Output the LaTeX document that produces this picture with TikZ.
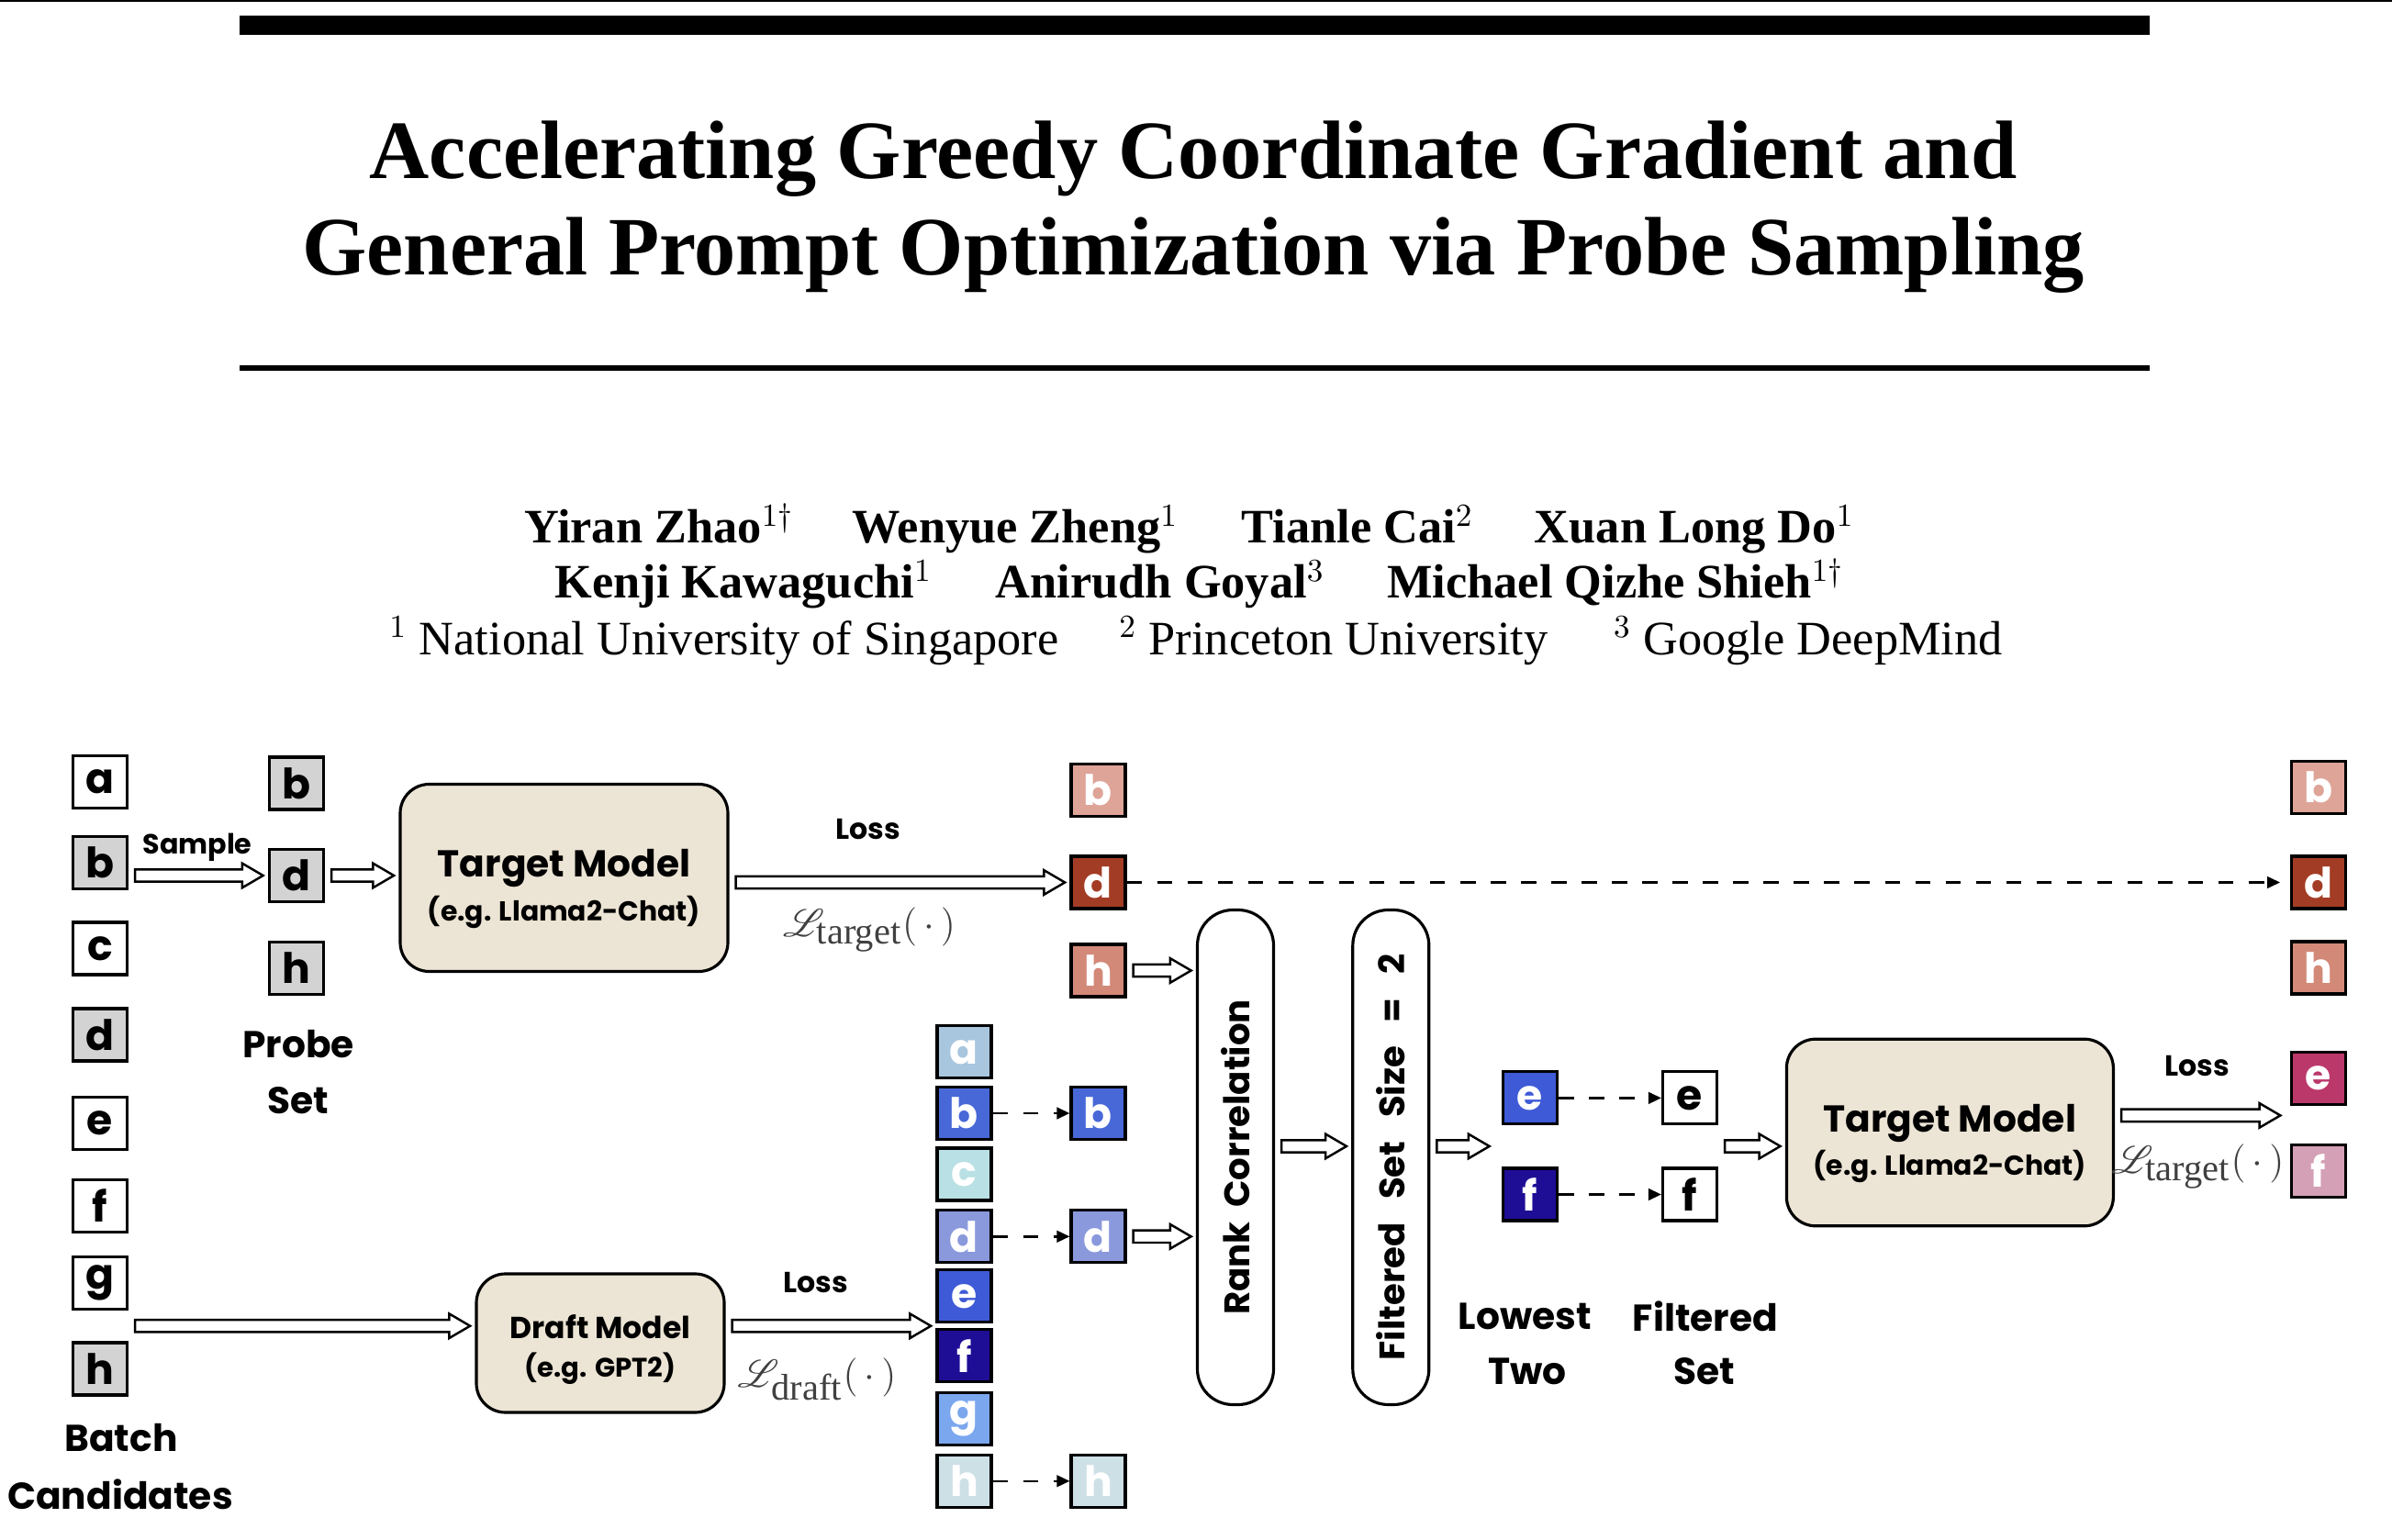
\documentclass[tikz,border=0pt]{standalone}
\usepackage{fontspec}
\setmainfont{Liberation Serif}
\newfontfamily\comic{Poppins}
\usepackage{mathrsfs}
\usetikzlibrary{arrows.meta,calc}

\definecolor{tokgray}{RGB}{211,211,211}
\definecolor{modelbg}{RGB}{236,228,212}
% target loss colours
\definecolor{tgtb}{RGB}{223,164,152}
\definecolor{tgtd}{RGB}{163,60,36}
\definecolor{tgth}{RGB}{211,137,120}
\definecolor{tgte}{RGB}{187,56,107}
\definecolor{tgtf}{RGB}{212,160,182}
% draft loss colours
\definecolor{dfta}{RGB}{168,198,222}
\definecolor{dftb}{RGB}{72,104,216}
\definecolor{dftc}{RGB}{185,224,228}
\definecolor{dftd}{RGB}{138,152,220}
\definecolor{dfte}{RGB}{62,90,214}
\definecolor{dftf}{RGB}{30,14,150}
\definecolor{dftg}{RGB}{123,167,238}
\definecolor{dfth}{RGB}{205,224,230}

\tikzset{
  tok/.style={draw=black, line width=0.9pt, minimum width=0.59cm, minimum height=0.57cm,
    inner sep=0pt, font=\comic\bfseries\fontsize{13}{13}\selectfont},
  wtok/.style={tok, text=white},
  model/.style={draw=black, line width=0.9pt, rounded corners=9pt, fill=modelbg},
  modeltxt/.style={align=center, font=\comic\bfseries\fontsize{11.6}{13.6}\selectfont},
  stage/.style={draw=black, line width=0.9pt, rounded corners=11pt, minimum width=0.83cm, minimum height=5.39cm},
  lbl/.style={font=\comic\bfseries\fontsize{11.6}{11.6}\selectfont},
  stagetxt/.style={font=\comic\bfseries\fontsize{11}{11}\selectfont, rotate=90},
  smalllbl/.style={font=\comic\bfseries\fontsize{9}{9}\selectfont},
  lossfn/.style={text=black!75, font=\fontsize{11.5}{12}\selectfont},
  author/.style={anchor=base, font=\bfseries\fontsize{14.9}{17}\selectfont},
  affil/.style={anchor=base, font=\fontsize{14.9}{17}\selectfont},
  fatarrow/.style={draw=black, line width=0.7pt, fill=white,
    to path={let \p1=(\tikztostart), \p2=(\tikztotarget) in
      (\x1+2pt,\y1+1.9pt) -- (\x2-8pt,\y1+1.9pt) -- (\x2-8pt,\y1+3.8pt) -- (\x2-1.5pt,\y1)
      -- (\x2-8pt,\y1-3.8pt) -- (\x2-8pt,\y1-1.9pt) -- (\x1+2pt,\y1-1.9pt) -- cycle}},
  dasharrow/.style={draw=black, line width=0.7pt, dash pattern=on 4.7pt off 4.7pt,
    -{Triangle[length=4pt,width=3.6pt]}},
}

\begin{document}
\begin{tikzpicture}
\useasboundingbox (0,0) rectangle (26.06,-16.78);

%% title block
\fill[black] (0,0) rectangle (26.06,-0.023);
\fill[black] (2.61,-0.167) rectangle (23.42,-0.383);
\node[anchor=base, font=\bfseries\fontsize{25.7}{30}\selectfont] (title1) at (13.0,-1.95) {Accelerating Greedy Coordinate Gradient and};
\node[anchor=base, font=\bfseries\fontsize{25.7}{30}\selectfont] (title2) at (13.0,-3.00) {General Prompt Optimization via Probe Sampling};
\fill[black] (2.61,-3.98) rectangle (23.42,-4.04);

%% authors
\node[author] (au1) at (7.18,-5.917)  {Yiran Zhao$^{1\dagger}$};
\node[author] (au2) at (11.06,-5.917) {Wenyue Zheng$^{1}$};
\node[author] (au3) at (14.79,-5.917) {Tianle Cai$^{2}$};
\node[author] (au4) at (18.46,-5.917) {Xuan Long Do$^{1}$};
\node[author] (au5) at (8.10,-6.517)  {Kenji Kawaguchi$^{1}$};
\node[author] (au6) at (12.64,-6.517) {Anirudh Goyal$^{3}$};
\node[author] (au7) at (17.60,-6.517) {Michael Qizhe Shieh$^{1\dagger}$};
\node[affil] (af1) at (7.89,-7.133)  {$^{1}$ National University of Singapore};
\node[affil] (af2) at (14.53,-7.133) {$^{2}$ Princeton University};
\node[affil] (af3) at (19.70,-7.133) {$^{3}$ Google DeepMind};

%% batch candidates
\node[tok] (ba) at (1.09,-8.52) {a};
\node[tok, fill=tokgray] (bb) at (1.09,-9.40) {b};
\node[tok] (bc) at (1.09,-10.335) {c};
\node[tok, fill=tokgray] (bd) at (1.09,-11.275) {d};
\node[tok] (be) at (1.09,-12.24) {e};
\node[tok] (bf) at (1.09,-13.14) {f};
\node[tok] (bg) at (1.09,-13.98) {g};
\node[tok, fill=tokgray] (bh) at (1.09,-14.915) {h};
\node[lbl] (batch) at (1.32,-15.67) {Batch};
\node[lbl] (cand) at (1.31,-16.28) {Candidates};

%% probe set
\node[tok, fill=tokgray] (pb) at (3.23,-8.535) {b};
\node[tok, fill=tokgray] (pd) at (3.23,-9.54) {d};
\node[tok, fill=tokgray] (ph) at (3.23,-10.55) {h};
\node[lbl] (probe) at (3.25,-11.38) {Probe};
\node[lbl] (pset) at (3.25,-11.99) {Set};
\node[smalllbl, font=\comic\bfseries\fontsize{8.6}{9}\selectfont] (sample) at (2.15,-9.23) {Sample};
\path[fatarrow] (bb.east |- pd.west) to (pd.west);

%% target model on probe set
\node[model, minimum width=3.57cm, minimum height=2.04cm] (tm1) at (6.145,-9.565) {};
\node[modeltxt] (tm1txt) at ([yshift=-0.12cm]tm1.center)
  {Target Model\\{\fontsize{8.5}{10}\selectfont (e.g. Llama2-Chat)}};
\path[fatarrow] (pd.east) to (tm1.west |- pd.east);

\node[wtok, fill=tgtb] (rb) at (11.965,-8.607) {b};
\node[wtok, fill=tgtd] (rd) at (11.965,-9.615) {d};
\node[wtok, fill=tgth] (rh) at (11.965,-10.575) {h};
\path[fatarrow] (tm1.east |- rd.west) to (rd.west);
\node[smalllbl] (loss1) at (9.46,-9.04) {Loss};
\node[lossfn] (lt1) at (9.47,-10.13) {$\mathscr{L}_{\textnormal{target}}(\,\cdot\,)$};

%% draft model on batch
\node[model, minimum width=2.70cm, minimum height=1.51cm] (dm) at (6.54,-14.635) {};
\node[modeltxt, font=\comic\bfseries\fontsize{9.4}{11.8}\selectfont] (dmtxt) at ([yshift=-0.07cm]dm.center)
  {Draft Model\\{\fontsize{8.3}{10}\selectfont (e.g. GPT2)}};
\coordinate (bout) at ($(bg.east)!0.5!(bh.east)$);
\path[fatarrow] (bout) to (dm.west |- bout);

\node[wtok, fill=dfta] (ca) at (10.505,-11.463) {a};
\node[wtok, fill=dftb] (cb) at (10.505,-12.13) {b};
\node[wtok, fill=dftc] (cc) at (10.505,-12.795) {c};
\node[wtok, fill=dftd] (cd) at (10.505,-13.473) {d};
\node[wtok, fill=dfte] (ce) at (10.505,-14.123) {e};
\node[wtok, fill=dftf] (cf) at (10.505,-14.772) {f};
\node[wtok, fill=dftg] (cg) at (10.505,-15.46) {g};
\node[wtok, fill=dfth] (ch) at (10.505,-16.138) {h};
\coordinate (cin) at ($(ce.west)!0.5!(cf.west)$);
\path[fatarrow] (dm.east |- cin) to (cin);
\node[smalllbl] (loss2) at (8.89,-13.98) {Loss};
\node[lossfn] (ld) at (8.90,-15.03) {$\mathscr{L}_{\textnormal{draft}}(\,\cdot\,)$};

%% probe entries picked from the draft ranking
\node[wtok, fill=dftb] (kb) at (11.965,-12.13) {b};
\node[wtok, fill=dftd] (kd) at (11.965,-13.473) {d};
\node[wtok, fill=dfth] (kh) at (11.965,-16.138) {h};
\draw[dasharrow] (cb.east) -- (kb.west);
\draw[dasharrow] (cd.east) -- (kd.west);
\draw[dasharrow] (ch.east) -- (kh.west);

%% rank correlation and filtering
\node[stage] (rank) at (13.46,-12.61) {};
\node[stagetxt] (ranktxt) at (rank) {Rank\hspace{0.2em} Correlation};
\node[stage] (filt) at (15.153,-12.61) {};
\node[stagetxt] (filttxt) at (filt) {Filtered\hspace{0.45em} Set\hspace{0.45em} Size\hspace{0.45em} =\hspace{0.45em} 2};
\path[fatarrow] (rh.east) to (rank.west |- rh.east);
\path[fatarrow] (kd.east) to (rank.west |- kd.east);

%% lowest two / filtered set
\node[wtok, fill=dfte] (le) at (16.67,-11.964) {e};
\node[wtok, fill=dftf] (lf) at (16.67,-13.015) {f};
\node[tok] (fe) at (18.41,-11.964) {e};
\node[tok] (ff) at (18.41,-13.015) {f};
\draw[dasharrow] (le.east) -- (fe.west);
\draw[dasharrow] (lf.east) -- (ff.west);
\coordinate (lin) at ($(le.west)!0.5!(lf.west)+(-0.08,0)$);
\path[fatarrow] (rank.east |- lin) to (filt.west |- lin);
\path[fatarrow] (filt.east |- lin) to (lin);
\node[lbl] (lowest) at (16.615,-14.344) {Lowest};
\node[lbl] (two) at (16.64,-14.946) {Two};
\node[lbl] (filtd) at (18.58,-14.344) {Filtered};
\node[lbl] (fset) at (18.57,-14.946) {Set};

%% target model on filtered set
\node[model, minimum width=3.56cm, minimum height=2.036cm] (tm2) at (21.244,-12.34) {};
\node[modeltxt] (tm2txt) at ([yshift=-0.12cm]tm2.center)
  {Target Model\\{\fontsize{8.5}{10}\selectfont (e.g. Llama2-Chat)}};
\coordinate (fout) at ($(fe.east)!0.5!(ff.east)$);
\path[fatarrow] (fout) to (tm2.west |- fout);

\node[wtok, fill=tgtb] (sb) at (25.257,-8.576) {b};
\node[wtok, fill=tgtd] (sd) at (25.257,-9.615) {d};
\node[wtok, fill=tgth] (sh) at (25.257,-10.545) {h};
\node[wtok, fill=tgte] (se) at (25.257,-11.75) {e};
\node[wtok, fill=tgtf] (sf) at (25.257,-12.76) {f};
\draw[dasharrow, shorten >=3pt] (rd.east) -- (sd.west);
\coordinate (sin) at ($(se.west)!0.4!(sf.west)+(-0.05,0)$);
\path[fatarrow] (tm2.east |- sin) to (sin);
\node[smalllbl] (loss3) at (23.94,-11.616) {Loss};
\node[lossfn] (lt2) at (23.946,-12.707) {$\mathscr{L}_{\textnormal{target}}(\,\cdot\,)$};

\end{tikzpicture}
\end{document}
